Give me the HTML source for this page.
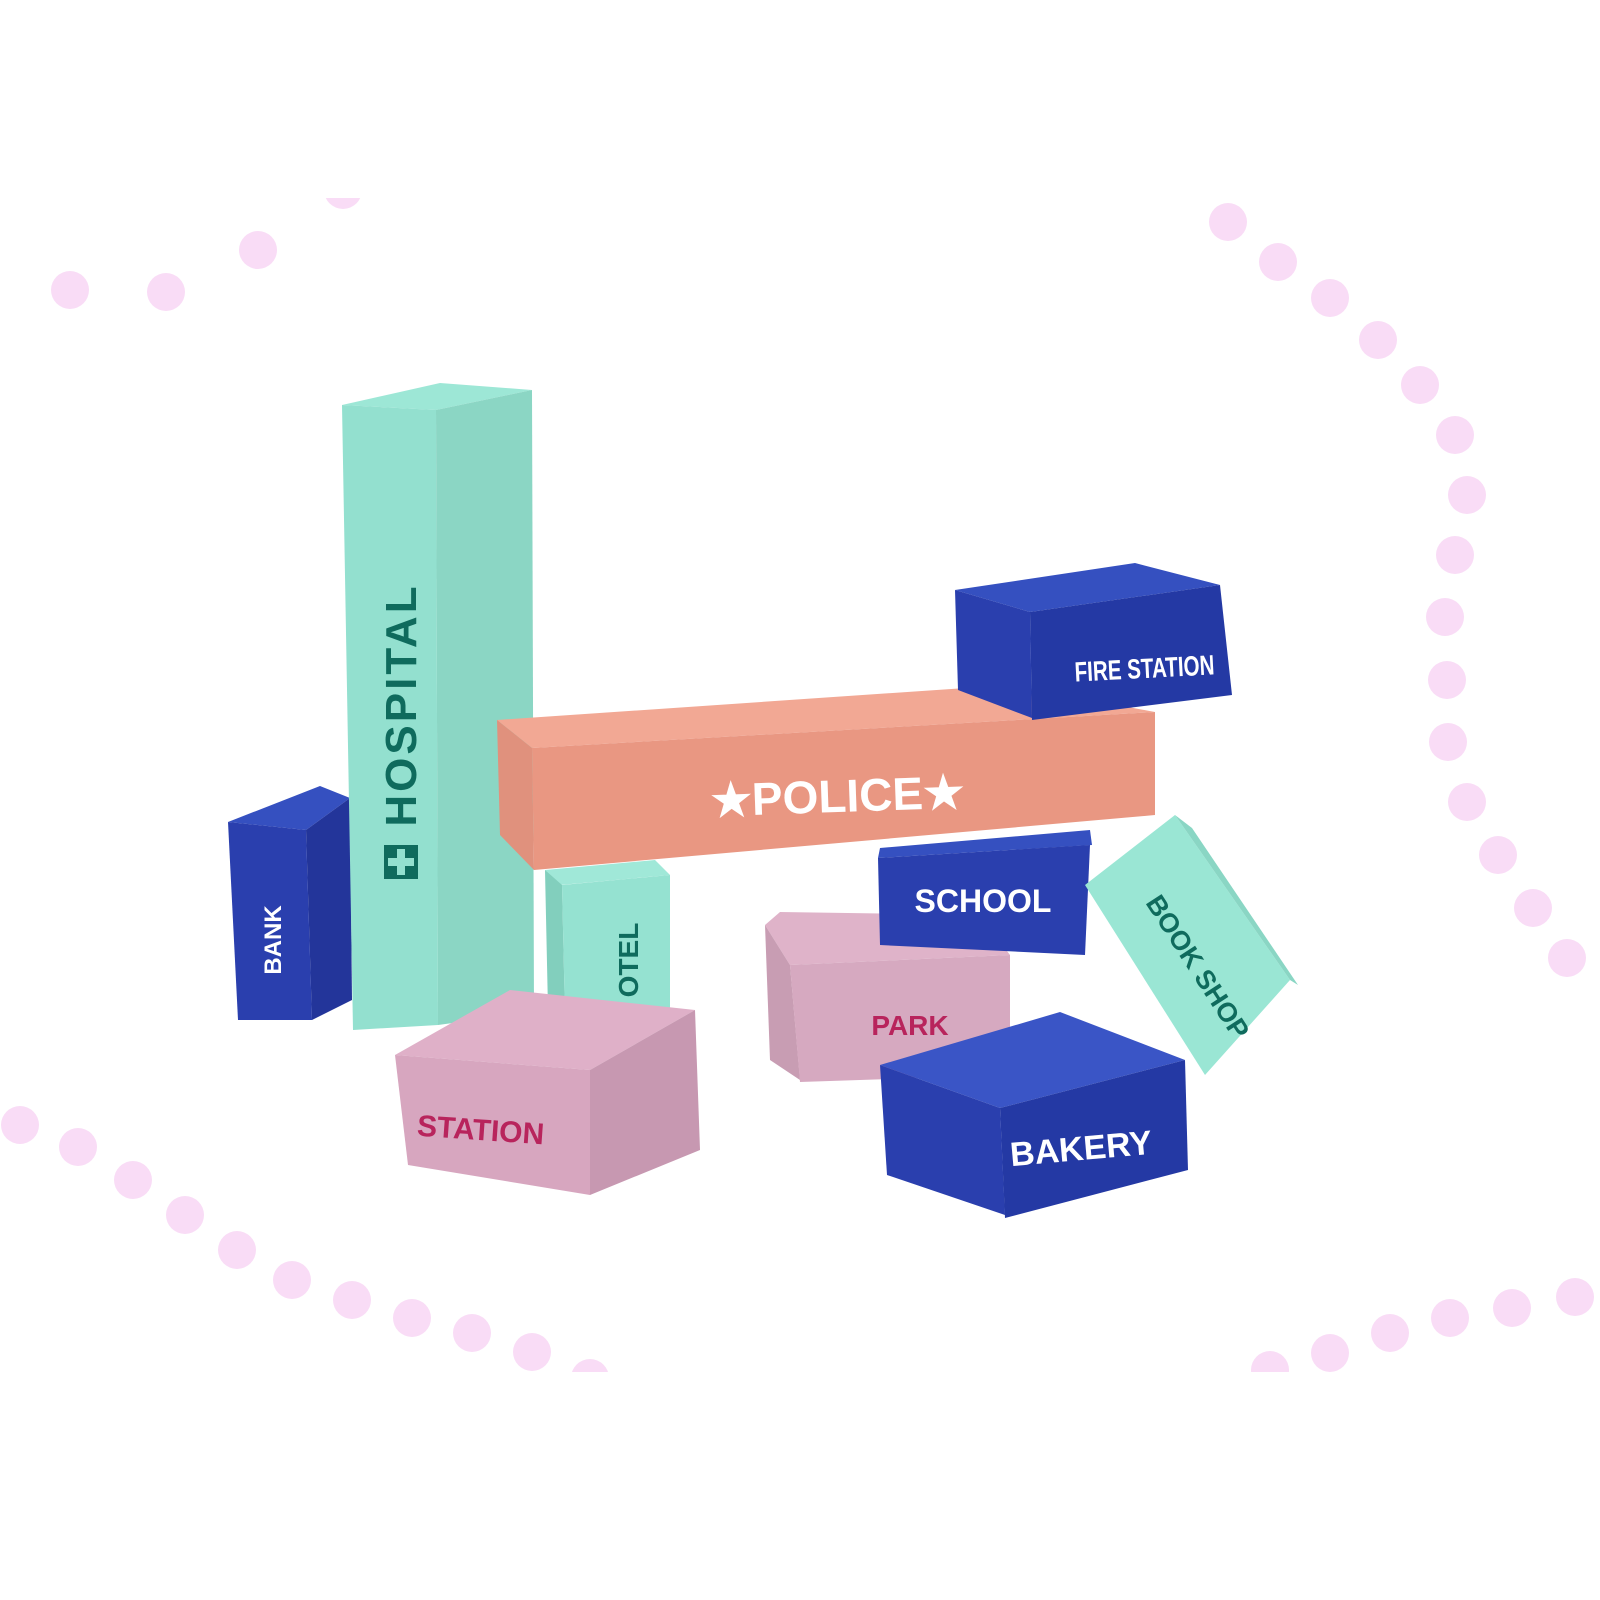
<!DOCTYPE html>
<html><head><meta charset="utf-8"><style>
html,body{margin:0;padding:0;background:#fff;}
svg{display:block;}
text{font-family:"Liberation Sans",Arial,sans-serif;font-weight:bold;}
</style></head><body>
<svg width="1600" height="1600" viewBox="0 0 1600 1600" xmlns="http://www.w3.org/2000/svg">
<defs><clipPath id="c"><rect x="0" y="198" width="1600" height="1174"/></clipPath></defs>
<g fill="#f9dcf6" clip-path="url(#c)">
<circle cx="70" cy="290" r="19"/><circle cx="166" cy="292" r="19"/><circle cx="258" cy="250" r="19"/><circle cx="343" cy="190" r="19"/>
<circle cx="1228" cy="222" r="19"/><circle cx="1278" cy="262" r="19"/><circle cx="1330" cy="298" r="19"/><circle cx="1378" cy="340" r="19"/><circle cx="1420" cy="385" r="19"/><circle cx="1455" cy="435" r="19"/><circle cx="1467" cy="495" r="19"/><circle cx="1455" cy="555" r="19"/><circle cx="1445" cy="617" r="19"/><circle cx="1447" cy="680" r="19"/><circle cx="1448" cy="742" r="19"/><circle cx="1467" cy="802" r="19"/><circle cx="1498" cy="855" r="19"/><circle cx="1533" cy="908" r="19"/><circle cx="1567" cy="958" r="19"/>
<circle cx="20" cy="1125" r="19"/><circle cx="78" cy="1147" r="19"/><circle cx="133" cy="1180" r="19"/><circle cx="185" cy="1215" r="19"/><circle cx="237" cy="1250" r="19"/><circle cx="292" cy="1280" r="19"/><circle cx="352" cy="1300" r="19"/><circle cx="412" cy="1318" r="19"/><circle cx="472" cy="1333" r="19"/><circle cx="532" cy="1352" r="19"/><circle cx="590" cy="1378" r="19"/>
<circle cx="1575" cy="1297" r="19"/><circle cx="1512" cy="1308" r="19"/><circle cx="1450" cy="1318" r="19"/><circle cx="1390" cy="1333" r="19"/><circle cx="1330" cy="1353" r="19"/><circle cx="1270" cy="1370" r="19"/>
</g>

<!-- BANK -->
<polygon points="228,822 320,786 350,798 306,830" fill="#3550c0"/>
<polygon points="228,822 306,830 312,1020 238,1020" fill="#2a3fae"/>
<polygon points="306,830 350,798 352,1000 312,1020" fill="#23359a"/>
<text transform="translate(281,940) rotate(-90)" font-size="24" fill="#fff" text-anchor="middle">BANK</text>

<!-- HOSPITAL -->
<polygon points="342,405 440,383 532,390 436,410" fill="#9de7d6"/>
<polygon points="342,405 436,410 438,1025 353,1030" fill="#93e0cf"/>
<polygon points="436,410 532,390 534,1012 438,1025" fill="#8bd6c4"/>
<text transform="translate(416,705) rotate(-90)" font-size="44" fill="#0f6b5d" text-anchor="middle" letter-spacing="3">HOSPITAL</text>
<rect x="384" y="845" width="34" height="34" fill="#0f6b5d"/>
<rect x="397" y="849" width="8" height="26" fill="#93e0cf"/><rect x="388" y="858" width="26" height="8" fill="#93e0cf"/>

<!-- HOTEL -->
<polygon points="545,870 655,860 670,875 560,885" fill="#a0e8d8"/>
<polygon points="545,870 562,885 565,1015 548,1010" fill="#82cfbd"/>
<polygon points="562,885 670,875 670,1012 565,1015" fill="#95e2d1"/>
<text transform="translate(638,960) rotate(-90)" font-size="28" fill="#0f6b5d" text-anchor="middle">OTEL</text>

<!-- POLICE -->
<polygon points="497,720 1010,685 1155,712 532,748" fill="#f2a894"/>
<polygon points="497,720 532,748 534,870 500,835" fill="#e0917d"/>
<polygon points="532,748 1155,712 1155,815 534,870" fill="#e99782"/>
<text transform="translate(838,812) rotate(-2)" font-size="46" fill="#fff" text-anchor="middle">★POLICE★</text>

<!-- FIRE STATION -->
<polygon points="955,590 1135,563 1220,585 1030,612" fill="#3550c0"/>
<polygon points="955,590 1030,612 1032,718 958,690" fill="#2a3fae"/>
<polygon points="1030,612 1220,585 1232,695 1032,720" fill="#2439a4"/>
<text transform="translate(1145,678) rotate(-3)" font-size="28" fill="#fff" text-anchor="middle" textLength="140" lengthAdjust="spacingAndGlyphs">FIRE STATION</text>

<!-- PARK -->
<polygon points="765,925 780,912 980,915 1010,955 790,965" fill="#dfb3c9"/>
<polygon points="765,925 790,965 800,1080 770,1060" fill="#c89db3"/>
<polygon points="790,965 1010,955 1010,1075 800,1082" fill="#d6a9c0"/>
<text x="910" y="1035" font-size="28" fill="#b8245c" text-anchor="middle">PARK</text>

<!-- SCHOOL -->
<polygon points="880,848 1090,830 1092,845 878,858" fill="#3550c0"/>
<polygon points="878,858 1090,845 1085,955 880,945" fill="#2a3fae"/>
<text x="983" y="912" font-size="32" fill="#fff" text-anchor="middle">SCHOOL</text>

<!-- BOOK SHOP -->
<polygon points="1085,885 1175,815 1290,980 1205,1075" fill="#9ae6d4"/>
<polygon points="1175,815 1192,828 1298,985 1290,980" fill="#8ad6c4"/>
<text transform="translate(1190,972) rotate(57)" font-size="27" fill="#0f6b5d" text-anchor="middle">BOOK SHOP</text>

<!-- STATION -->
<polygon points="395,1055 510,990 695,1010 590,1070" fill="#dfb0c8"/>
<polygon points="395,1055 590,1070 590,1195 408,1165" fill="#d7a6bf"/>
<polygon points="590,1070 695,1010 700,1150 590,1195" fill="#c798b1"/>
<text transform="translate(480,1140) rotate(4)" font-size="30" fill="#b8245c" text-anchor="middle">STATION</text>

<!-- BAKERY -->
<polygon points="880,1065 1060,1012 1185,1060 1000,1108" fill="#3a55c6"/>
<polygon points="880,1065 1000,1108 1005,1215 887,1175" fill="#2a3fae"/>
<polygon points="1000,1108 1185,1060 1188,1170 1005,1218" fill="#2439a4"/>
<text transform="translate(1082,1160) rotate(-5)" font-size="34" fill="#fff" text-anchor="middle">BAKERY</text>
</svg>
</body></html>
